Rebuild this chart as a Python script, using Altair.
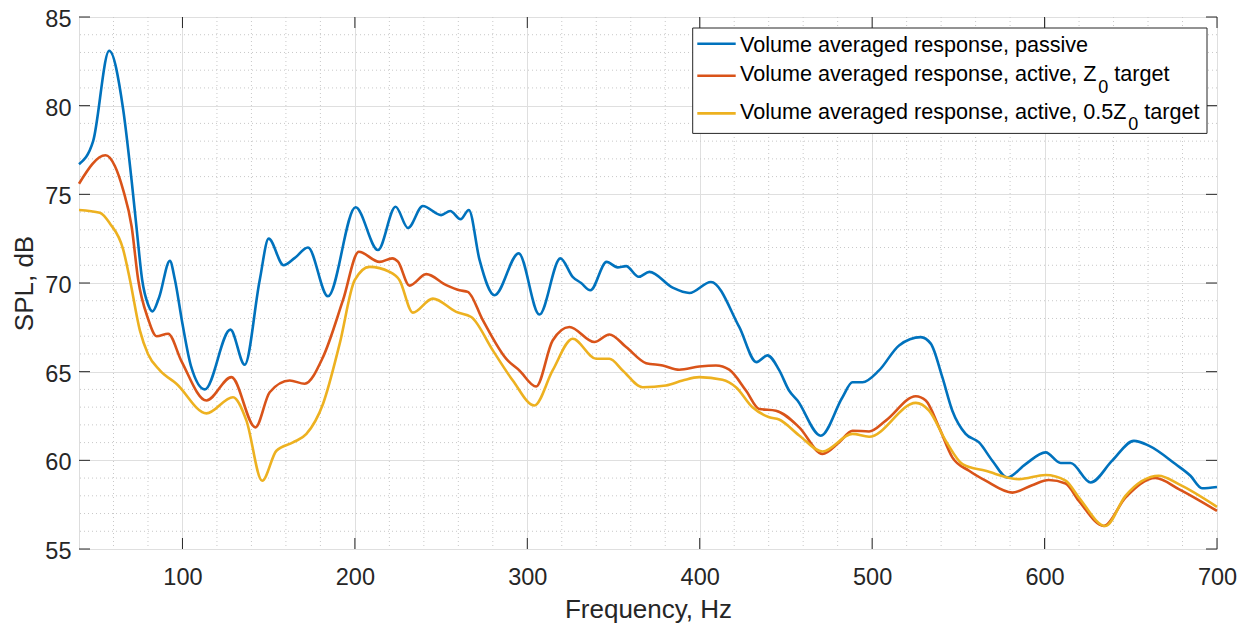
import altair as alt
import pandas as pd

# ---------------- data ----------------
freq_passive = [40, 48.2, 57.5, 65.6, 70.5, 73.5, 76.6, 80, 82.6, 86.5, 92.7, 95.6, 100, 105, 113,
                127.8, 136.1, 144.8, 150, 158.7, 165, 172.8, 184.4, 200.4, 213.4, 223.6, 230.8,
                239.4, 250, 255.3, 261.3, 266.1, 272.3, 281, 295, 307, 319.2, 326.3, 331.2, 336.6,
                346, 352.4, 357.3, 364.6, 370.8, 384.3, 394, 406.5, 422.9, 432.9, 439.3, 446,
                451.8, 456.7, 470.2, 482.8, 488.6, 494.4, 504, 515.6, 528.2, 534, 540.7, 546.5,
                554.2, 562, 569.7, 578.4, 589, 600.6, 609.3, 615.1, 626.7, 639.2, 651.8, 660.4,
                675.9, 684.6, 691.3, 700]
spl_passive = [76.7, 78.0, 83.1, 79.8, 75.8, 73.0, 70.2, 68.8, 68.4, 69.2, 71.25, 70.2, 67.7, 65.3,
               64.0, 67.37, 65.39, 70.16, 72.5, 71.0, 71.4, 72.0, 69.25, 74.27, 71.86, 74.3, 73.1,
               74.34, 73.83, 74.06, 73.6, 74.12, 71.3, 69.31, 71.67, 68.22, 71.39, 70.35, 70.0,
               69.59, 71.19, 70.88, 70.95, 70.35, 70.63, 69.74, 69.44, 70.06, 67.52, 65.54, 65.92,
               65.1, 63.94, 63.37, 61.39, 63.56, 64.4, 64.4, 65.07, 66.48, 66.95, 66.58, 64.69,
               62.8, 61.49, 61.01, 59.98, 59.03, 59.79, 60.45, 59.85, 59.85, 58.75, 59.98, 61.1,
               60.83, 59.79, 59.13, 58.43, 58.5]

freq_active_z0 = [40, 55.4, 60.8, 65.6, 70.5, 74.3, 80, 85, 91.7, 99.4, 113.9, 128.4, 142.3, 150.6,
                  162.2, 170.9, 181.5, 193.1, 202.3, 214.3, 221.7, 225, 231.7, 241.4, 253, 260.7,
                  265.5, 274.2, 287.7, 295.4, 305.1, 314.7, 324.4, 338.9, 347.6, 357.3, 368.9,
                  378.5, 388.1, 399.7, 409.4, 417.1, 426.8, 434.5, 444.2, 457.7, 471.2, 480.8,
                  488.6, 498.2, 507.9, 525.3, 531.1, 538.8, 546.5, 556.2, 565.8, 581.3, 592.8,
                  602.5, 612.2, 619.9, 634.4, 646.9, 664.3, 677.8, 700]
spl_active_z0 = [75.6, 77.2, 76.6, 75.25, 73.2, 70.2, 68.0, 67.0, 67.14, 65.6, 63.37, 64.69, 61.86,
                 63.84, 64.5, 64.32, 65.82, 69.03, 71.76, 71.19, 71.39, 71.2, 69.85, 70.5, 69.88,
                 69.59, 69.5, 67.9, 65.73, 65.07, 64.16, 66.76, 67.52, 66.67, 67.1, 66.39, 65.48,
                 65.35, 65.11, 65.29, 65.35, 65.11, 63.94, 62.9, 62.8, 61.86, 60.36, 61.01, 61.67,
                 61.63, 62.24, 63.61, 63.37, 61.86, 60.17, 59.41, 58.85, 58.18, 58.6, 58.89, 58.69,
                 57.71, 56.3, 57.9, 59.0, 58.38, 57.15]

freq_active_half = [40, 52.1, 57.9, 65.6, 69.5, 75.3, 80, 86.9, 96.5, 113.9, 129.3, 137.1, 146.2,
                    154.5, 164.1, 171.9, 181.5, 191.2, 199.9, 208.5, 220.1, 225.9, 233.6, 245.2,
                    258.8, 267.5, 280, 291.6, 304.1, 314.7, 326.3, 339.9, 347.6, 355.3, 366.9,
                    380.4, 390.1, 399.7, 413.2, 421, 430.6, 440.3, 446, 457.7, 471.2, 488.6, 498.2,
                    525.3, 533, 542.7, 552.4, 565.8, 585.2, 600.6, 612.2, 619.9, 635.3, 646.9,
                    666.2, 677.8, 700]
spl_active_half = [74.12, 73.96, 73.36, 71.9, 70.2, 67.33, 66.0, 65.07, 64.32, 62.65, 63.56, 62.24,
                   58.85, 60.54, 61.01, 61.49, 63.18, 66.58, 70.16, 70.91, 70.63, 70.16, 68.33,
                   69.12, 68.37, 68.08, 66.2, 64.5, 63.09, 65.07, 66.86, 65.73, 65.73, 65.07, 64.12,
                   64.22, 64.5, 64.69, 64.54, 64.12, 62.99, 62.43, 62.3, 61.4, 60.5, 61.49, 61.33,
                   63.24, 62.8, 61.1, 59.79, 59.41, 58.94, 59.17, 58.85, 57.9, 56.3, 58.0, 59.13,
                   58.66, 57.38]

series_names = ["passive", "active_z0", "active_half"]
series_colors = ["#0072BD", "#D95319", "#EDB120"]

x_major = [100, 200, 300, 400, 500, 600, 700]
y_major = [55, 60, 65, 70, 75, 80, 85]
x_minor = [v for v in range(60, 700, 20) if v % 100 != 0]
y_minor = [v for v in range(56, 85) if v % 5 != 0]

legend_row1 = "Volume averaged response, passive"
legend_row2 = "Volume averaged response, active, Z"
legend_row3 = "Volume averaged response, active, 0.5Z"
legend_sub = "0"
legend_tail = "target"

# ---------------- tables ----------------
frames = []
for name, fr, sp in [(series_names[0], freq_passive, spl_passive),
                     (series_names[1], freq_active_z0, spl_active_z0),
                     (series_names[2], freq_active_half, spl_active_half)]:
    frames.append(pd.DataFrame({"f": fr, "spl": sp, "series": name}))
df = pd.concat(frames, ignore_index=True)

W, H = 1138, 532
FONT = "Liberation Sans"
AX = "#262626"

xs = alt.Scale(domain=[40, 700], nice=False, zero=False)
ys = alt.Scale(domain=[55, 85], nice=False, zero=False)

x_axis = alt.Axis(values=x_major, grid=True, gridColor="#dfdfdf", gridWidth=1, domain=False,
                  ticks=False, tickSize=0, labelPadding=16, labelFontSize=23.5, labelFont=FONT,
                  labelColor=AX, title="Frequency, Hz", titleFont=FONT, titleFontSize=26,
                  titleFontWeight="normal", titleColor=AX, titleY=68, titleBaseline="alphabetic",
                  labelFlush=False)
y_axis = alt.Axis(values=y_major, grid=True, gridColor="#dfdfdf", gridWidth=1, domain=False,
                  ticks=False, tickSize=0, labelPadding=8, labelFontSize=23.5, labelFont=FONT,
                  labelColor=AX, labelOffset=2.5, title="SPL, dB", titleFont=FONT,
                  titleFontSize=26, titleFontWeight="normal", titleColor=AX, titleX=-47,
                  titleY=H / 2, titleAngle=270, titleBaseline="alphabetic", titleAlign="center",
                  labelFlush=False)

# minor grids
xminor_df = pd.DataFrame({"f": x_minor})
yminor_df = pd.DataFrame({"spl": y_minor})
minor_x = alt.Chart(xminor_df).mark_rule(color="#c8c8c8", strokeDash=[1, 3], strokeWidth=1).encode(
    x=alt.X("f:Q", scale=xs, axis=x_axis))
minor_y = alt.Chart(yminor_df).mark_rule(color="#c8c8c8", strokeDash=[1, 3], strokeWidth=1).encode(
    y=alt.Y("spl:Q", scale=ys, axis=y_axis))

lines = alt.Chart(df).mark_line(strokeWidth=2.6, interpolate="monotone").encode(
    x=alt.X("f:Q", scale=xs, axis=x_axis),
    y=alt.Y("spl:Q", scale=ys, axis=y_axis),
    color=alt.Color("series:N", scale=alt.Scale(domain=series_names, range=series_colors),
                    legend=None),
    detail="series:N",
)

# inward ticks on all four sides
xt_df = pd.DataFrame({"f": x_major})
yt_df = pd.DataFrame({"spl": y_major})
TL = 11
tick_b = alt.Chart(xt_df).mark_rule(color=AX, strokeWidth=1).encode(
    x=alt.X("f:Q", scale=xs, axis=x_axis), y=alt.value(H), y2=alt.value(H - TL))
tick_t = alt.Chart(xt_df).mark_rule(color=AX, strokeWidth=1).encode(
    x=alt.X("f:Q", scale=xs, axis=x_axis), y=alt.value(0), y2=alt.value(TL))
tick_l = alt.Chart(yt_df).mark_rule(color=AX, strokeWidth=1).encode(
    y=alt.Y("spl:Q", scale=ys, axis=y_axis), x=alt.value(0), x2=alt.value(TL))
tick_r = alt.Chart(yt_df).mark_rule(color=AX, strokeWidth=1).encode(
    y=alt.Y("spl:Q", scale=ys, axis=y_axis), x=alt.value(W), x2=alt.value(W - TL))

# legend (hand-built so that the subscripts can be drawn)
one = pd.DataFrame({"k": [0]})
LX0, LX1, LY0, LY1 = 613.7, 1128, 11, 116.4
leg_box = alt.Chart(one).mark_rect(fill="white", stroke=AX, strokeWidth=1).encode(
    x=alt.value(LX0), x2=alt.value(LX1), y=alt.value(LY0), y2=alt.value(LY1))
row_line_y = [26.7, 58.7, 96.4]
row_base_y = [35, 63.7, 101.7]
leg_layers = [leg_box]
for i, c in enumerate(series_colors):
    leg_layers.append(alt.Chart(one).mark_rule(color=c, strokeWidth=2.6).encode(
        x=alt.value(618.3), x2=alt.value(656.7), y=alt.value(row_line_y[i])))

LFS = 21.6
SFS = 18
TX = 661
def txt(s, x, y, size):
    return alt.Chart(one).mark_text(text=s, align="left", baseline="alphabetic", font=FONT,
                                    fontSize=size, color="#000000").encode(
        x=alt.value(x), y=alt.value(y))

w_em_row2 = 16.563
w_em_row3 = 17.953
space_w = 0.278 * LFS
sub2_x = TX + w_em_row2 * LFS + 0.5
sub3_x = TX + w_em_row3 * LFS + 0.5
leg_layers += [
    txt(legend_row1, TX, row_base_y[0], LFS),
    txt(legend_row2, TX, row_base_y[1], LFS),
    txt(legend_sub, sub2_x, row_base_y[1] + 12, SFS),
    txt(legend_tail, sub2_x + 0.556 * SFS + space_w, row_base_y[1], LFS),
    txt(legend_row3, TX, row_base_y[2], LFS),
    txt(legend_sub, sub3_x, row_base_y[2] + 11, SFS),
    txt(legend_tail, sub3_x + 0.556 * SFS + space_w, row_base_y[2], LFS),
]

chart = alt.layer(minor_x, minor_y, lines, tick_b, tick_t, tick_l, tick_r, *leg_layers).properties(
    width=W, height=H,
    autosize=alt.AutoSizeParams(type="none"),
    padding={"left": 71, "top": 9, "right": 20, "bottom": 77},
).configure_view(stroke=AX, strokeWidth=1).configure(background="white")

chart.save("out.html", embed_options={"renderer": "svg", "actions": False})
